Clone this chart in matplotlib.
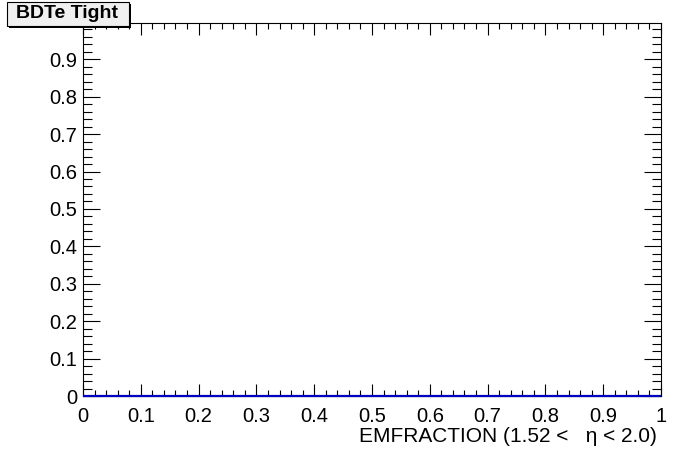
import numpy as np
import matplotlib.pyplot as plt
from matplotlib.patches import Rectangle
from matplotlib.ticker import MultipleLocator

plt.rcParams['font.family'] = ['Liberation Sans', 'DejaVu Sans']

# ============= Data =============
# empty histogram: all bins at zero
bin_edges = np.linspace(0.0, 1.0, 51)
counts = np.zeros(50)

x_ticks = [0, 0.1, 0.2, 0.3, 0.4, 0.5, 0.6, 0.7, 0.8, 0.9, 1]
x_ticklabels = ['0', '0.1', '0.2', '0.3', '0.4', '0.5', '0.6', '0.7', '0.8', '0.9', '1']
y_ticks = [0, 0.1, 0.2, 0.3, 0.4, 0.5, 0.6, 0.7, 0.8, 0.9]
y_ticklabels = ['0', '0.1', '0.2', '0.3', '0.4', '0.5', '0.6', '0.7', '0.8', '0.9']

title = 'BDTe Tight'
xlabel = 'EMFRACTION (1.52 <   \u03b7 < 2.0)'

# ============= Figure =============
W, H = 696, 472
fig = plt.figure(figsize=(W / 100, H / 100), dpi=100)
ax = fig.add_axes([83 / W, 1 - 396 / H, (661 - 83) / W, (396 - 23) / H])

ax.stairs(counts, bin_edges, color='#0000c0', lw=1.6, zorder=3, clip_on=False)

ax.set_xlim(0, 1)
ax.set_ylim(0, 0.997)
ax.set_xticks(x_ticks)
ax.set_xticklabels(x_ticklabels)
ax.set_yticks(y_ticks)
ax.set_yticklabels(y_ticklabels)
ax.xaxis.set_minor_locator(MultipleLocator(0.02))
ax.yaxis.set_minor_locator(MultipleLocator(0.02))

ax.tick_params(axis='both', which='both', direction='in', top=True, right=True,
               width=0.8, colors='black', labelsize=14.5)
ax.tick_params(axis='x', which='major', length=8.6, pad=8)
ax.tick_params(axis='x', which='minor', length=4.3)
ax.tick_params(axis='y', which='major', length=12.2, pad=4)
ax.tick_params(axis='y', which='minor', length=6.2)
for s in ax.spines.values():
    s.set_linewidth(0.8)

# x axis title, right aligned like ROOT
fig.text(657 / W, 1 - 442 / H, xlabel, ha='right', va='baseline', fontsize=15)

# title box with shadow
shadow = Rectangle((9 / W, 1 - 28 / H), 122 / W, 24 / H, transform=fig.transFigure,
                   facecolor='black', edgecolor='none', zorder=5)
box = Rectangle((7 / W, 1 - 26 / H), 122 / W, 24 / H, transform=fig.transFigure,
                facecolor='#f0f0f0', edgecolor='black', lw=0.8, zorder=6)
fig.patches.extend([shadow, box])
fig.text(67 / W, 1 - 13 / H, title, ha='center', va='center', fontsize=14,
         fontweight='bold', zorder=7)

fig.savefig('out.png', dpi=100, facecolor='white')
